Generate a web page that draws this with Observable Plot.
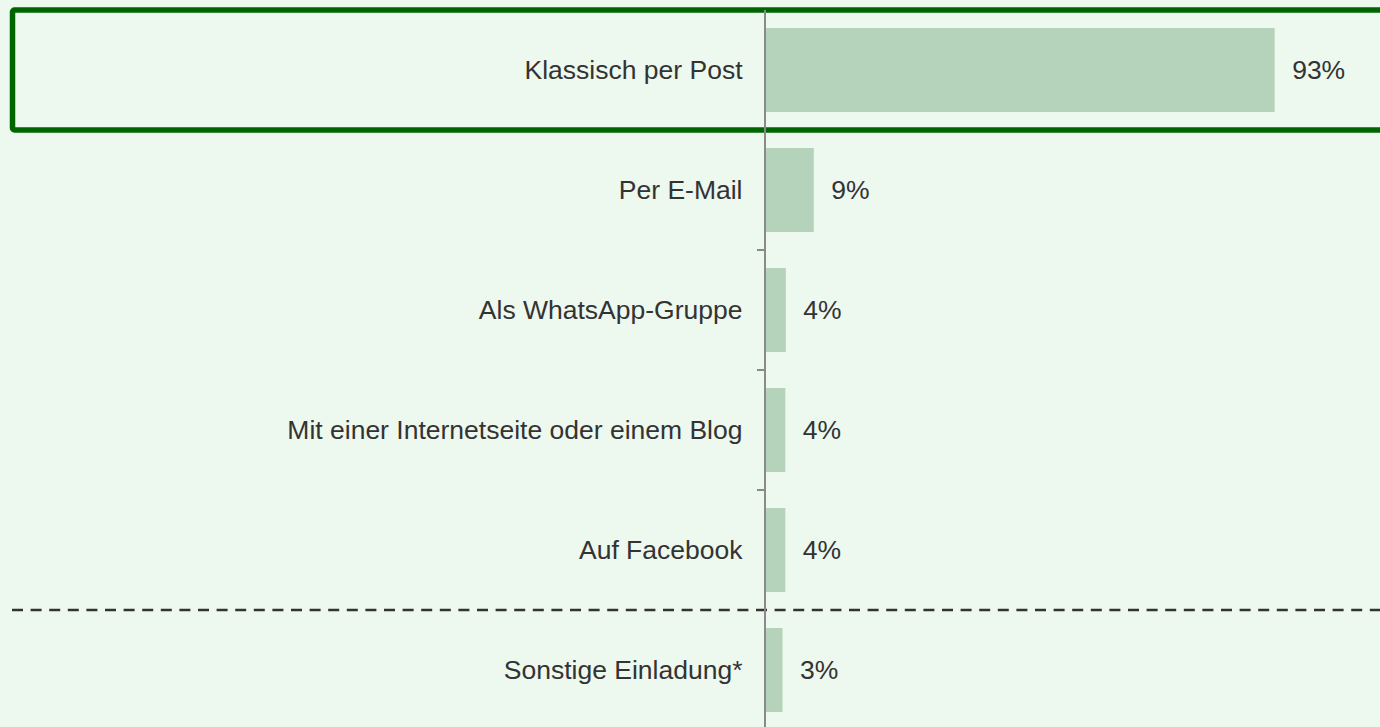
<!DOCTYPE html>
<html>
<head>
<meta charset="utf-8">
<script src="https://cdn.jsdelivr.net/npm/d3@7"></script>
<script src="https://cdn.jsdelivr.net/npm/@observablehq/plot@0.6"></script>
<style>
  html, body { margin: 0; padding: 0; background: #edf8ef; overflow: hidden; }
  #chart svg { display: block; }
</style>
</head>
<body>
<div id="chart"></div>
<script>
const categories = [
  "Klassisch per Post",
  "Per E-Mail",
  "Als WhatsApp-Gruppe",
  "Mit einer Internetseite oder einem Blog",
  "Auf Facebook",
  "Sonstige Einladung*"
];
const values = [93, 8.9, 3.8, 3.7, 3.7, 3.2];
const highlighted = ["Klassisch per Post"];
const separatorBefore = ["Sonstige Einladung*"];

const data = categories.map((c, i) => ({category: c, value: values[i], label: Math.round(values[i]) + "%"}));

const textColor = "#333333";
const font = "Liberation Sans, Arial, Helvetica, sans-serif";

function decorations(index, scales, channels, dimensions) {
  const y = scales.y, x = scales.x;
  const step = y.step(), bw = y.bandwidth();
  const off = (step - bw) / 2;
  const x0 = x(0);
  const g = d3.create("svg:g");
  // tick marks at band boundaries
  categories.slice(1).forEach(c => {
    const yy = y(c) - off;
    g.append("line").attr("x1", x0 - 8).attr("x2", x0).attr("y1", yy).attr("y2", yy)
      .attr("stroke", "#8a8a8a").attr("stroke-width", 2);
  });
  // highlight box
  highlighted.forEach(c => {
    const top = y(c) - off;
    g.append("rect").attr("x", 12.5).attr("y", top).attr("width", dimensions.width + 20).attr("height", step)
      .attr("fill", "none").attr("stroke", "#006400").attr("stroke-width", 5.5).attr("rx", 2);
  });
  // separator dashed line
  separatorBefore.forEach(c => {
    const yy = y(c) - off;
    g.append("line").attr("x1", 12).attr("x2", dimensions.width).attr("y1", yy).attr("y2", yy)
      .attr("stroke", "#333333").attr("stroke-width", 2.5).attr("stroke-dasharray", "11,7.6");
  });
  // vertical axis line
  g.append("line").attr("x1", x0).attr("x2", x0).attr("y1", y(categories[0]) - off).attr("y2", dimensions.height)
    .attr("stroke", "#8a8a8a").attr("stroke-width", 2);
  return g.node();
}

const chart = Plot.plot({
  width: 1380,
  height: 727,
  marginLeft: 765,
  marginRight: 67,
  marginTop: 10,
  marginBottom: 0,
  style: {background: "#edf8ef", fontFamily: font, overflow: "visible"},
  x: {domain: [0, 100], axis: null},
  y: {domain: categories, range: [10, 730], paddingInner: 0.3, paddingOuter: 0.15, axis: null},
  marks: [
    Plot.barX(data, {x: "value", y: "category", fill: "#b5d3ba"}),
    decorations,
    Plot.text(data, {x: 0, y: "category", text: "category", textAnchor: "end", dx: -23,
      fill: textColor, fontSize: 26.5, fontFamily: font}),
    Plot.text(data, {x: "value", y: "category", text: "label", textAnchor: "start", dx: 17,
      fill: textColor, fontSize: 26.5, fontFamily: font})
  ]
});
document.getElementById("chart").appendChild(chart);
</script>
</body>
</html>
